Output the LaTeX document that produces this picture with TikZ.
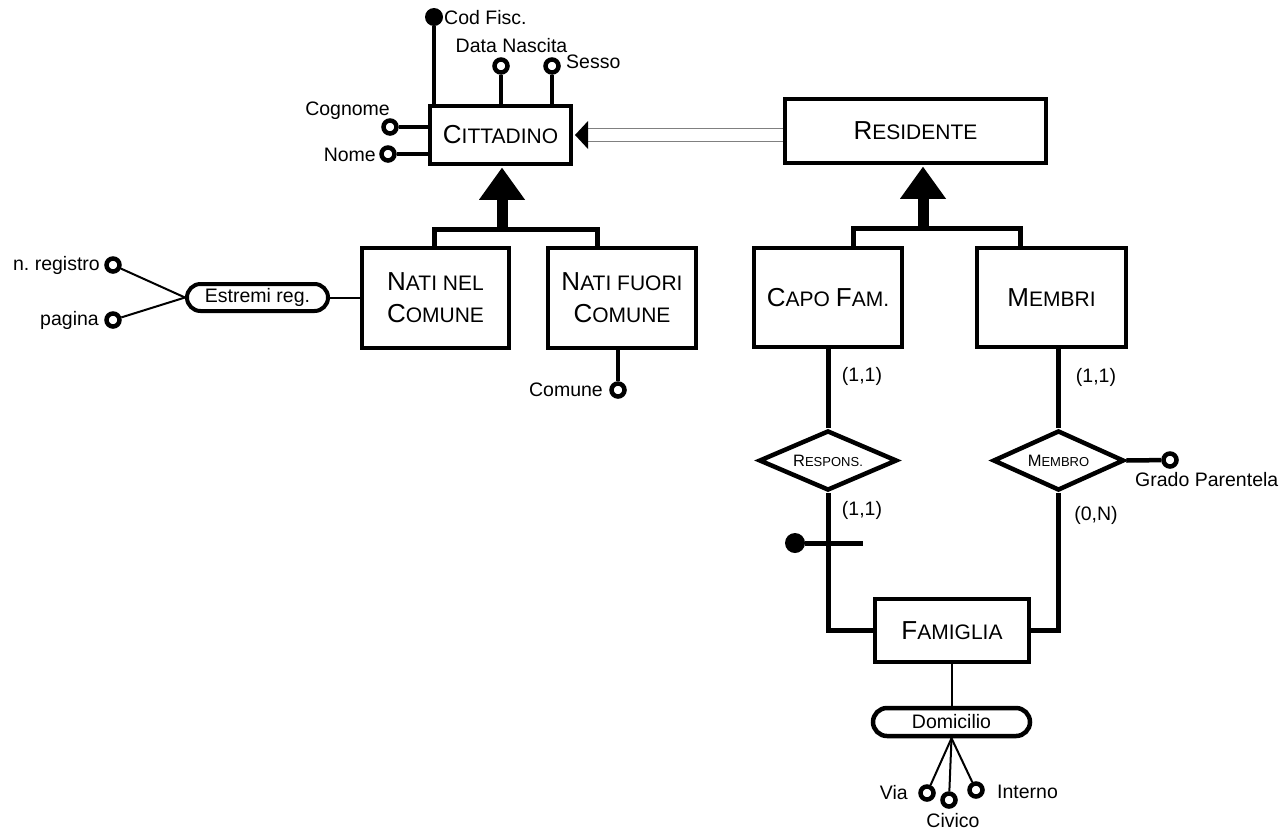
\documentclass[tikz,border=0pt]{standalone}
\usepackage{fontspec}
\setmainfont{Liberation Sans}
\usetikzlibrary{calc,shapes.geometric}
\frenchspacing

% small-caps look: large initial, smaller capitals after it
\newcommand\entname[2]{{\fontsize{26}{32}\selectfont #1}{\fontsize{21}{32}\selectfont #2}}
\newcommand\relname[2]{{\fontsize{16.5}{20}\selectfont #1}{\fontsize{13}{20}\selectfont #2}}

\begin{document}
\begin{tikzpicture}[x=1pt,y=-1pt,
  entity/.style={draw, line width=4.5pt, fill=white, inner sep=0pt, align=center,
                 font=\fontsize{21}{32}\selectfont},
  relation/.style={draw, diamond, line width=4.5pt, fill=white, inner sep=0pt, aspect=2.3},
  comp/.style={draw, rectangle, fill=white, inner sep=0pt,
               font=\fontsize{19.5}{23}\selectfont},
  attr/.style={circle, draw, line width=4.5pt, fill=white, minimum size=13pt, inner sep=0pt},
  keydot/.style={circle, fill=black, inner sep=0pt},
  lbl/.style={inner sep=0pt, font=\fontsize{19.5}{23}\selectfont},
  attrline/.style={line width=4.5pt},
  thinline/.style={line width=2pt},
  relline/.style={line width=5pt},
  isabar/.style={line width=5pt},
  isastem/.style={line width=11pt},
  isalink/.style={draw=black!50, line width=1.6pt, double=white, double distance=11.5pt}
]
\useasboundingbox (0,0) rectangle (1285,831);

% ---------- entities ----------
\node[entity, minimum width=141pt, minimum height=58pt] (citt) at (500.5,135) {\entname{C}{ITTADINO}};
\node[entity, minimum width=261pt, minimum height=64pt] (res) at (915.5,131) {\entname{R}{ESIDENTE}};
\node[entity, minimum width=147pt, minimum height=100pt] (nnc) at (435.5,298) {\entname{N}{ATI NEL}\\\entname{C}{OMUNE}};
\node[entity, minimum width=148pt, minimum height=100pt] (nfc) at (622,298) {\entname{N}{ATI FUORI}\\\entname{C}{OMUNE}};
\node[entity, minimum width=148pt, minimum height=99pt] (capo) at (828,297.5) {\entname{C}{APO} \entname{F}{AM.}};
\node[entity, minimum width=149pt, minimum height=99pt] (membri) at (1051.5,297.5) {\entname{M}{EMBRI}};
\node[entity, minimum width=154pt, minimum height=63pt] (fam) at (952,630.5) {\entname{F}{AMIGLIA}};

% ---------- relationships ----------
\node[relation, minimum width=138pt, minimum height=60pt] (resp) at (828,460.5) {\relname{R}{ESPONS.}};
\node[relation, minimum width=131pt, minimum height=60pt] (memb) at (1058.5,460.5) {\relname{M}{EMBRO}};

% ---------- composite attributes ----------
\node[comp, line width=4pt, minimum width=141pt, minimum height=27pt, rounded corners=13.5pt] (estr) at (257.5,297.5) {Estremi reg.};
\node[comp, line width=4.5pt, minimum width=157pt, minimum height=28pt, rounded corners=14pt] (dom) at (951.5,722) {Domicilio};

% ---------- attribute markers ----------
\node[keydot, minimum size=18pt] (a-cf) at (434,17) {};
\node[attr] (a-dn) at (501,66) {};
\node[attr] (a-se) at (552,66) {};
\node[attr] (a-co) at (390,127) {};
\node[attr] (a-no) at (388,154) {};
\node[attr] (a-nr) at (113,265) {};
\node[attr] (a-pa) at (113,320) {};
\node[attr] (a-cm) at (618,390) {};
\node[attr] (a-gp) at (1170,460) {};
\node[attr] (a-via) at (927,793) {};
\node[attr] (a-civ) at (949,800) {};
\node[attr] (a-int) at (976,790) {};
\node[keydot, minimum size=20pt] (id-resp) at (795,543) {};
\coordinate (id-end) at (863,543);

% ---------- attribute labels ----------
\node[lbl, anchor=base west] (l-cf) at (444,24) {Cod Fisc.};
\node[lbl, anchor=base] (l-dn) at (511.5,52) {Data Nascita};
\node[lbl, anchor=base west] (l-se) at (566,68) {Sesso};
\node[lbl, anchor=base east] (l-co) at (390,115) {Cognome};
\node[lbl, anchor=base east] (l-no) at (376,161) {Nome};
\node[lbl, anchor=base east] (l-nr) at (100,270) {n. registro};
\node[lbl, anchor=base east] (l-pa) at (99,325) {pagina};
\node[lbl, anchor=base east] (l-cm) at (603,396) {Comune};
\node[lbl, anchor=base west] (l-gp) at (1135,486) {Grado Parentela};
\node[lbl, anchor=base east] (l-via) at (908,799) {Via};
\node[lbl, anchor=base] (l-civ) at (953,827) {Civico};
\node[lbl, anchor=base west] (l-int) at (997,798) {Interno};

% ---------- cardinalities ----------
\node[lbl] (c1) at (862,376) {(1,1)};
\node[lbl] (c2) at (862,510) {(1,1)};
\node[lbl] (c3) at (1096,377) {(1,1)};
\node[lbl] (c4) at (1096,515) {(0,N)};

% ---------- attribute connectors ----------
\draw[attrline] (a-cf) -- (a-cf |- citt.north);
\draw[attrline] (a-dn) -- (a-dn |- citt.north);
\draw[attrline] (a-se) -- (a-se |- citt.north);
\draw[attrline] (a-co) -- (a-co -| citt.west);
\draw[attrline] (a-no) -- (a-no -| citt.west);
\draw[attrline] (a-cm) -- (a-cm |- nfc.south);
\draw[attrline] (memb.east) -- (a-gp);
\draw[thinline] (a-nr) -- (estr.west);
\draw[thinline] (a-pa) -- (estr.west);
\draw[thinline] (estr.east) -- (estr.east -| nnc.west);
\draw[thinline] (dom.north) -- (dom.north |- fam.south);
\draw[thinline] (dom.south) -- (a-via);
\draw[thinline] (dom.south) -- (a-civ);
\draw[thinline] (dom.south) -- (a-int);

% ---------- relationship connectors ----------
\draw[relline] (capo.south) -- (resp.north);
\draw[relline] (resp.south) -- (resp.south |- fam.west) -- (fam.west);
\draw[relline] (memb.north |- membri.south) -- (memb.north);
\draw[relline] (memb.south) -- (memb.south |- fam.east) -- (fam.east);
\draw[relline] (id-resp) -- (id-end);

% ---------- generalisation of Cittadino ----------
\coordinate (isa1) at (502,229);
\coordinate (isa1l) at (434,229);
\coordinate (isa1r) at (597,229);
\draw[isabar] (isa1l |- nnc.north) -- (isa1l) -- (isa1r) -- (isa1r |- nfc.north);
\draw[isastem] (isa1) -- ($(isa1 |- citt.south)+(0,34)$);
\fill ($(isa1 |- citt.south)+(0,1.5)$) -- ++(-23,32) -- ++(46,0) -- cycle;

% ---------- generalisation of Residente ----------
\coordinate (isa2) at (923,228);
\coordinate (isa2l) at (853,228);
\coordinate (isa2r) at (1020,228);
\draw[isabar] (isa2l |- capo.north) -- (isa2l) -- (isa2r) -- (isa2r |- membri.north);
\draw[isastem] (isa2) -- ($(isa2 |- res.south)+(0,34)$);
\fill ($(isa2 |- res.south)+(0,1.5)$) -- ++(-23,32) -- ++(46,0) -- cycle;

% ---------- Residente is a Cittadino ----------
\draw[isalink] (res.west |- citt.east) -- ($(citt.east)+(14.75,0)$);
\fill ($(citt.east)+(1.75,0)$) -- ++(13,-14) -- ++(0,28) -- cycle;

\end{tikzpicture}
\end{document}
